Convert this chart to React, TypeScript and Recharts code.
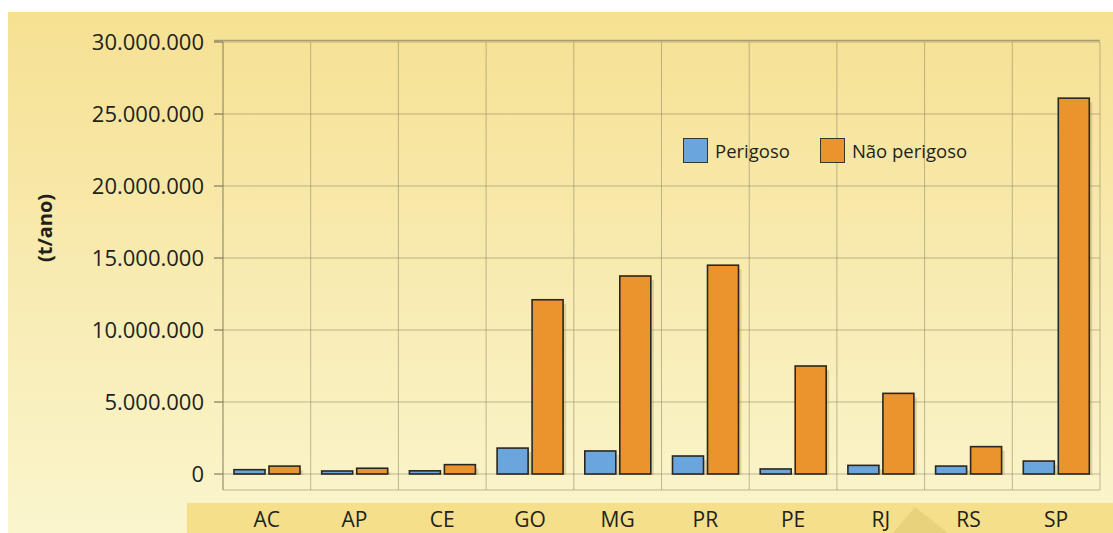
import { BarChart, Bar, XAxis, YAxis, CartesianGrid, Customized } from "recharts"

const estados = ["AC", "AP", "CE", "GO", "MG", "PR", "PE", "RJ", "RS", "SP"]
const perigoso = [300000, 200000, 220000, 1800000, 1600000, 1250000, 350000, 600000, 550000, 900000]
const naoPerigoso = [550000, 400000, 650000, 12100000, 13750000, 14500000, 7500000, 5600000, 1900000, 26100000]
const yTicks = [0, 5000000, 10000000, 15000000, 20000000, 25000000, 30000000]

const data = estados.map((uf, i) => ({ uf, perigoso: perigoso[i], naoPerigoso: naoPerigoso[i] }))

const BLUE = "#6aa5dd"
const ORANGE = "#eb932d"
const TXT = "#231f1a"
const FONT = "'Open Sans', 'Noto Sans', sans-serif"

const fmt = (v: number) => v.toLocaleString("de-DE")

function ShadowBar(props: any) {
  const { x, y, width, height, fill } = props
  if (height == null || width == null) return null
  const h = Math.max(height, 3)
  const yy = height < 3 ? y - (3 - height) : y
  return (
    <g>
      <rect x={x + 3} y={yy + 4} width={width} height={h - 3} fill="rgba(170,140,60,0.3)" />
      <rect x={x} y={yy} width={width} height={h} fill={fill} stroke="#2a2620" strokeWidth={1.6} />
    </g>
  )
}

function LegendBox() {
  const items = [
    { label: "Perigoso", color: BLUE },
    { label: "Não perigoso", color: ORANGE },
  ]
  return (
    <div
      style={{
        position: "absolute",
        left: 683,
        top: 138,
        display: "flex",
        gap: 30,
        fontFamily: FONT,
        fontSize: 18.5,
        fontWeight: 500,
        color: TXT,
      }}
    >
      {items.map((it) => (
        <div key={it.label} style={{ display: "flex", alignItems: "center", gap: 7 }}>
          <span style={{ width: 23, height: 23, background: it.color, border: "1.5px solid #3a342a", display: "inline-block" }} />
          <span>{it.label}</span>
        </div>
      ))}
    </div>
  )
}

export default function App() {
  return (
    <div style={{ position: "absolute", left: 0, top: 0, width: 1113, height: 533, background: "#fff", overflow: "hidden" }}>
      <div
        style={{
          position: "absolute",
          left: 8,
          top: 12,
          width: 1105,
          height: 521,
          background: "linear-gradient(180deg, #f6e192 0%, #f8eaae 45%, #faf5cd 100%)",
        }}
      />
      <BarChart
        width={1113}
        height={533}
        data={data}
        margin={{ top: 42, right: 13, left: 0, bottom: 0 }}
        barSize={31}
        barGap={4}
        style={{ position: "absolute", left: 0, top: 0 }}
      >
        <Customized
          component={() => (
            <g>
              <rect x={187} y={503} width={926} height={30} fill="#f6df8a" />
              <polygon points="893,533 915,507 948,533" fill="#e8d27c" />
              <line x1={214} y1={40.5} x2={1100} y2={40.5} stroke="#a89c72" strokeWidth={1.5} />
              <text
                x={52}
                y={228}
                transform="rotate(-90 52 228)"
                textAnchor="middle"
                fontFamily={FONT}
                fontWeight={700}
                fontSize={20}
                fill={TXT}
              >
                (t/ano)
              </text>
            </g>
          )}
        />
        <CartesianGrid
          stroke="#8f8462"
          strokeOpacity={0.55}
          verticalCoordinatesGenerator={({ offset }: any) =>
            Array.from({ length: estados.length + 1 }, (_, i) => offset.left + (i * offset.width) / estados.length)
          }
        />
        <XAxis
          dataKey="uf"
          height={43}
          axisLine={false}
          tickLine={false}
          tick={{ fontSize: 21, fill: TXT, fontFamily: FONT, fontWeight: 500 }}
          tickMargin={16}
          interval={0}
        />
        <YAxis
          width={223}
          domain={[-1111000, 30000000]}
          ticks={yTicks}
          tickFormatter={fmt}
          axisLine={{ stroke: "#8f8462", strokeOpacity: 0.7 }}
          tickLine={{ stroke: "#6f664a" }}
          tickSize={9}
          tickMargin={10}
          tick={{ fontSize: 22, fill: TXT, fontFamily: FONT, fontWeight: 500 }}
          allowDataOverflow
        />
        <Bar dataKey="perigoso" name="Perigoso" fill={BLUE} shape={ShadowBar} isAnimationActive={false} />
        <Bar dataKey="naoPerigoso" name="Não perigoso" fill={ORANGE} shape={ShadowBar} isAnimationActive={false} />
      </BarChart>
      <LegendBox />
    </div>
  )
}
